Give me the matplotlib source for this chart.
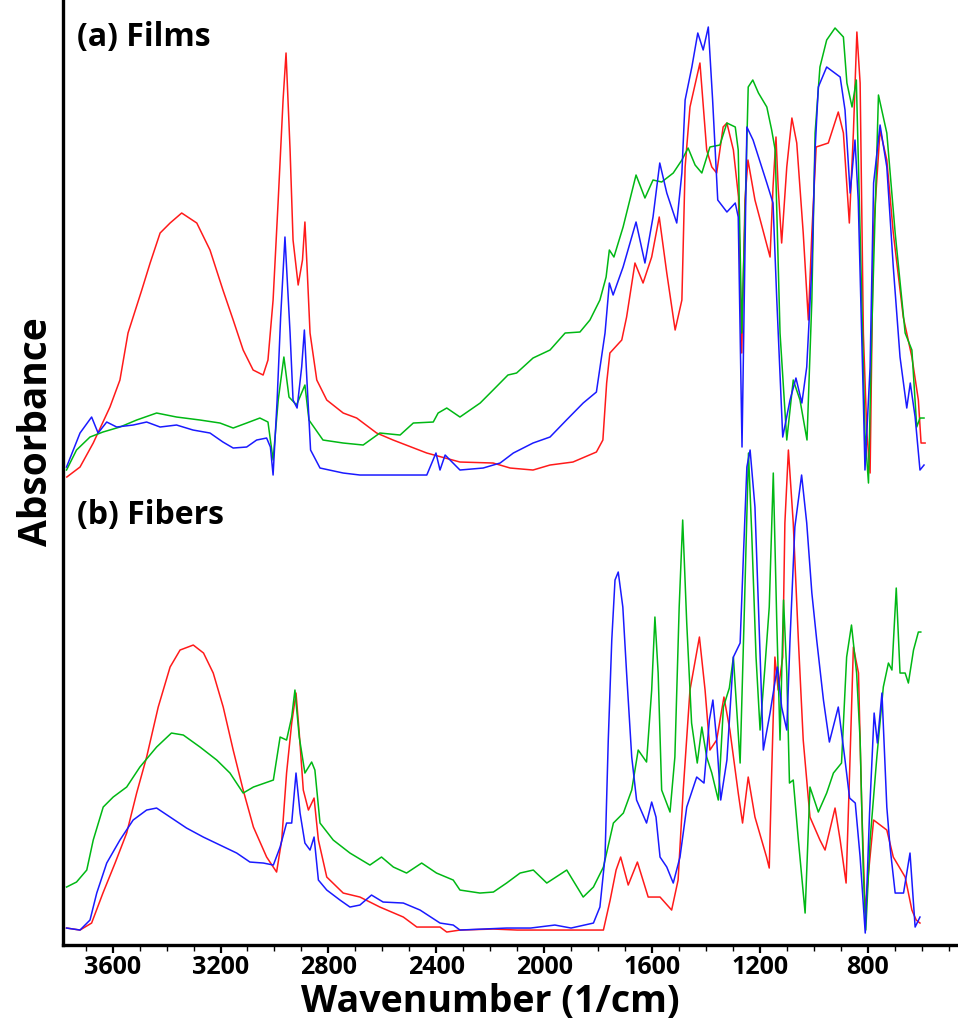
"""FTIR absorbance spectra – (a) films and (b) fibers, stacked on one axis."""

import matplotlib
matplotlib.use("Agg")
import matplotlib.pyplot as plt
from matplotlib.ticker import MultipleLocator

# ── Style constants ───────────────────────────────────────────────────────
RED   = "#ff1a1a"
BLUE  = "#1a1aff"
GREEN = "#00b814"
LINE_WIDTH = 1.1
FONT = ["Open Sans", "DejaVu Sans"]

# ── Data (wavenumber 1/cm, absorbance a.u.; films sit above fibers) ──────
films_red_wn = [3770, 3721, 3672, 3610, 3573, 3543, 3492, 3461, 3424, 3387, 3344, 3288,
                3239, 3191, 3153, 3116, 3079, 3042, 3024, 3005, 2986, 2968, 2957, 2942,
                2931, 2912, 2896, 2887, 2879, 2868, 2843, 2806, 2745, 2695, 2621, 2560,
                2435, 2312, 2189, 2126, 2041, 1978, 1893, 1806, 1782, 1768, 1756, 1712,
                1694, 1663, 1633, 1601, 1573, 1545, 1514, 1489, 1477, 1459, 1422, 1397,
                1378, 1360, 1336, 1322, 1298, 1279, 1267, 1255, 1244, 1218, 1162, 1151,
                1140, 1132, 1119, 1100, 1081, 1063, 1039, 1020, 1007, 991, 946, 909,
                890, 868, 853, 840, 828, 816, 803, 791, 779, 754, 729, 705, 668, 636,
                612, 602, 587]
films_red_abs = [468, 478, 502, 538, 565, 612, 655, 682, 712, 722, 732, 722,
                 695, 655, 625, 595, 575, 570, 585, 645, 745, 845, 892, 795,
                 705, 660, 685, 723, 678, 612, 565, 545, 532, 527, 512, 505,
                 492, 483, 482, 477, 475, 480, 483, 493, 505, 562, 592, 605,
                 628, 682, 662, 688, 728, 672, 615, 645, 778, 838, 882, 795,
                 778, 772, 818, 822, 795, 748, 592, 745, 785, 745, 688, 758,
                 808, 758, 702, 778, 827, 802, 712, 625, 712, 798, 802, 833,
                 812, 722, 812, 913, 862, 612, 512, 472, 712, 815, 785, 712, 628, 588,
                 545, 502, 502]

films_blue_wn = [3771, 3721, 3678, 3654, 3622, 3585, 3524, 3474, 3424, 3363, 3302, 3239,
                 3191, 3153, 3103, 3066, 3029, 3015, 3005, 2990, 2977, 2961, 2942, 2931,
                 2916, 2899, 2889, 2879, 2866, 2831, 2745, 2683, 2560, 2435, 2401, 2386,
                 2367, 2312, 2226, 2163, 2114, 2041, 1978, 1917, 1855, 1806, 1774, 1758,
                 1744, 1707, 1659, 1626, 1596, 1571, 1545, 1508, 1489, 1477, 1452, 1430,
                 1410, 1391, 1375, 1356, 1322, 1291, 1280, 1266, 1248, 1225, 1174, 1151,
                 1137, 1115, 1088, 1066, 1044, 1026, 1007, 995, 983, 952, 902, 884,
                 865, 847, 835, 816, 810, 791, 778, 754, 729, 705, 680, 655,
                 642, 624, 606, 591]
films_blue_abs = [478, 512, 528, 512, 523, 518, 520, 523, 518, 520, 515, 512,
                  503, 497, 498, 505, 507, 498, 470, 545, 628, 708, 612, 545,
                  537, 578, 615, 562, 495, 477, 472, 470, 470, 470, 492, 475,
                  490, 475, 477, 482, 492, 502, 508, 525, 542, 553, 612, 662,
                  650, 678, 723, 682, 728, 782, 752, 722, 772, 845, 878, 912,
                  895, 918, 845, 745, 733, 742, 728, 498, 818, 805, 762, 742,
                  645, 508, 545, 567, 542, 578, 678, 795, 858, 878, 868, 835,
                  752, 805, 745, 545, 475, 578, 762, 820, 778, 678, 588, 537,
                  562, 528, 475, 480]

films_green_wn = [3771, 3734, 3684, 3636, 3573, 3511, 3437, 3363, 3276, 3202, 3153, 3103,
                  3054, 3024, 3005, 2986, 2965, 2946, 2918, 2887, 2872, 2820, 2745, 2671,
                  2609, 2534, 2485, 2411, 2393, 2361, 2312, 2237, 2189, 2134, 2102, 2041,
                  1978, 1922, 1867, 1830, 1793, 1770, 1758, 1741, 1707, 1659, 1626, 1596,
                  1564, 1521, 1489, 1466, 1440, 1415, 1385, 1348, 1322, 1291, 1280, 1267,
                  1255, 1243, 1226, 1205, 1174, 1156, 1143, 1125, 1100, 1076, 1051, 1025,
                  1007, 995, 977, 952, 921, 890, 877, 858, 842, 828, 810, 797,
                  785, 760, 729, 698, 661, 636, 618, 606, 591]
films_green_abs = [475, 495, 508, 513, 518, 525, 532, 528, 525, 522, 517, 522,
                   527, 523, 485, 545, 588, 548, 540, 560, 525, 505, 502, 500,
                   512, 510, 522, 523, 532, 537, 528, 542, 555, 570, 572, 587,
                   595, 612, 613, 625, 645, 668, 695, 688, 718, 770, 747, 765,
                   763, 772, 785, 797, 780, 772, 798, 800, 822, 818, 795, 612,
                   728, 858, 865, 852, 838, 815, 795, 612, 505, 565, 545, 505,
                   645, 812, 878, 905, 917, 908, 862, 838, 865, 712, 512, 462,
                   612, 850, 812, 712, 612, 595, 518, 527, 527]

fibers_red_wn = [3771, 3721, 3678, 3636, 3591, 3548, 3511, 3474, 3431, 3387, 3350, 3301,
                 3263, 3227, 3190, 3153, 3116, 3078, 3029, 2992, 2973, 2955, 2936, 2920,
                 2908, 2893, 2874, 2853, 2837, 2806, 2745, 2683, 2609, 2522, 2472, 2386,
                 2361, 2312, 2188, 2100, 2000, 1900, 1780, 1755, 1733, 1716, 1688, 1654,
                 1614, 1570, 1527, 1503, 1484, 1459, 1424, 1403, 1385, 1360, 1333, 1311,
                 1280, 1264, 1243, 1218, 1175, 1165, 1156, 1144, 1132, 1115, 1107, 1094,
                 1076, 1057, 1039, 1014, 977, 958, 921, 902, 880, 867, 853, 834,
                 822, 809, 797, 778, 729, 705, 661, 636, 620, 606]
fibers_red_abs = [17, 15, 22, 52, 82, 112, 152, 188, 238, 278, 295, 300,
                  292, 272, 238, 195, 155, 118, 88, 73, 105, 172, 222, 252,
                  212, 155, 135, 147, 105, 68, 52, 48, 38, 28, 18, 18,
                  13, 15, 16, 15, 15, 15, 15, 45, 75, 88, 60, 83,
                  48, 48, 35, 65, 155, 255, 308, 255, 195, 205, 248, 215,
                  152, 122, 168, 128, 88, 77, 172, 288, 255, 288, 422, 495,
                  422, 305, 205, 128, 105, 95, 137, 105, 62, 172, 298, 272,
                  138, 32, 72, 125, 115, 88, 68, 35, 25, 22]

fibers_blue_wn = [3771, 3721, 3684, 3659, 3622, 3573, 3524, 3474, 3437, 3387, 3326, 3264,
                  3202, 3140, 3091, 3041, 3004, 2979, 2955, 2936, 2920, 2905, 2887, 2868,
                  2853, 2837, 2806, 2757, 2720, 2683, 2640, 2597, 2522, 2460, 2386, 2337,
                  2312, 2139, 2050, 1960, 1900, 1817, 1793, 1774, 1762, 1749, 1737, 1725,
                  1708, 1694, 1675, 1657, 1620, 1601, 1585, 1570, 1545, 1521, 1496, 1471,
                  1434, 1407, 1387, 1374, 1360, 1345, 1322, 1298, 1273, 1261, 1248, 1236,
                  1218, 1205, 1187, 1162, 1135, 1119, 1100, 1088, 1070, 1045, 1026, 1007,
                  989, 964, 942, 909, 884, 867, 846, 828, 809, 793, 776, 764,
                  747, 729, 717, 698, 667, 643, 624, 606]
fibers_blue_abs = [17, 15, 25, 52, 82, 105, 125, 135, 137, 128, 117, 108,
                   100, 92, 83, 82, 80, 98, 122, 122, 172, 132, 102, 95,
                   108, 65, 55, 45, 38, 40, 50, 43, 42, 35, 22, 20,
                   15, 17, 17, 20, 17, 22, 38, 88, 205, 305, 365, 373,
                   338, 272, 188, 145, 122, 143, 128, 88, 78, 62, 88, 138,
                   168, 162, 225, 245, 205, 145, 185, 288, 302, 388, 478, 495,
                   438, 338, 195, 232, 278, 238, 215, 305, 418, 470, 422, 352,
                   305, 245, 203, 238, 185, 147, 142, 88, 12, 132, 232, 202,
                   252, 138, 98, 52, 52, 92, 18, 28]

fibers_green_wn = [3771, 3734, 3696, 3672, 3635, 3598, 3548, 3499, 3437, 3382, 3338, 3276,
                   3214, 3165, 3116, 3078, 3004, 2979, 2955, 2936, 2924, 2908, 2887, 2862,
                   2850, 2831, 2782, 2720, 2646, 2603, 2559, 2510, 2454, 2399, 2337, 2312,
                   2238, 2188, 2139, 2089, 2040, 1990, 1916, 1855, 1817, 1780, 1743, 1706,
                   1675, 1651, 1620, 1601, 1589, 1577, 1564, 1533, 1515, 1499, 1486, 1471,
                   1453, 1432, 1415, 1397, 1378, 1354, 1335, 1313, 1298, 1273, 1257, 1242,
                   1230, 1214, 1199, 1181, 1165, 1150, 1137, 1125, 1112, 1100, 1090, 1076,
                   1057, 1032, 1014, 983, 952, 927, 897, 878, 860, 841, 828, 816,
                   807, 791, 766, 742, 723, 710, 694, 680, 661, 649, 630, 612, 603]
fibers_green_abs = [58, 63, 75, 105, 138, 148, 158, 178, 198, 212, 210, 198,
                    185, 172, 152, 158, 165, 208, 205, 228, 255, 208, 172, 183,
                    175, 122, 105, 92, 80, 88, 78, 72, 82, 72, 65, 55,
                    52, 53, 62, 72, 75, 62, 75, 48, 58, 78, 122, 132,
                    155, 195, 183, 255, 328, 272, 155, 133, 188, 338, 425, 322,
                    222, 182, 218, 188, 172, 145, 238, 257, 288, 182, 338, 492,
                    412, 288, 215, 278, 338, 472, 322, 205, 345, 272, 162, 165,
                    105, 32, 158, 133, 152, 172, 182, 288, 320, 272, 205, 72,
                    15, 105, 188, 258, 282, 275, 357, 272, 272, 262, 295, 313, 313]

x_ticks = [3600, 3200, 2800, 2400, 2000, 1600, 1200, 800]

# ── Figure ────────────────────────────────────────────────────────────────
fig = plt.figure(figsize=(9.58, 10.27), dpi=100)
ax = fig.add_axes([0.0658, 0.0798, 0.9342, 0.9202])

for wn, ab, color in [
    (films_red_wn, films_red_abs, RED),
    (films_green_wn, films_green_abs, GREEN),
    (films_blue_wn, films_blue_abs, BLUE),
    (fibers_red_wn, fibers_red_abs, RED),
    (fibers_green_wn, fibers_green_abs, GREEN),
    (fibers_blue_wn, fibers_blue_abs, BLUE),
]:
    ax.plot(wn, ab, color=color, linewidth=LINE_WIDTH)

ax.set_xlim(3784, 465)
ax.set_ylim(0, 945)
ax.set_xticks(x_ticks)
ax.xaxis.set_minor_locator(MultipleLocator(100))
ax.set_yticks([])

for side in ("top", "right"):
    ax.spines[side].set_visible(False)
for side in ("left", "bottom"):
    ax.spines[side].set_linewidth(2.4)
    ax.spines[side].set_color("black")

ax.tick_params(axis="x", which="major", direction="out", length=6, width=1.6,
               labelsize=18, pad=1)
ax.tick_params(axis="x", which="minor", direction="out", length=4, width=1.0)
for lbl in ax.get_xticklabels():
    lbl.set_family(FONT)
    lbl.set_fontweight("bold")

ax.set_xlabel("Wavenumber (1/cm)", fontsize=27, fontweight="bold", family=FONT)
ax.xaxis.set_label_coords(0.477, -0.04)
ax.set_ylabel("Absorbance", fontsize=28, fontweight="bold", family=FONT)
ax.yaxis.set_label_coords(-0.008, 0.543)

ax.text(0.016, 0.96, "(a) Films", transform=ax.transAxes, fontsize=23,
        fontweight="bold", family=FONT, va="center", ha="left")
ax.text(0.016, 0.454, "(b) Fibers", transform=ax.transAxes, fontsize=23,
        fontweight="bold", family=FONT, va="center", ha="left")

fig.savefig("out.png", dpi=100, facecolor="white")
